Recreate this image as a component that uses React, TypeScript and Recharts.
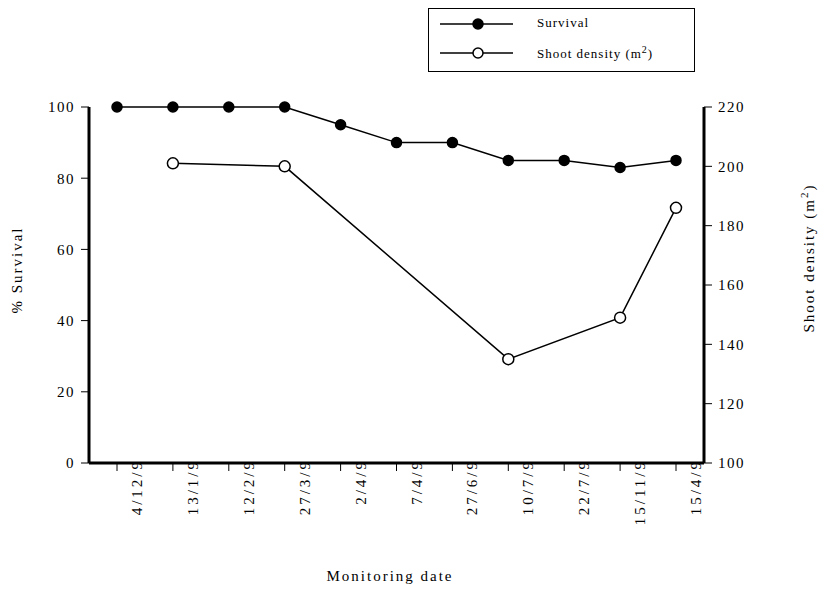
import { LineChart, Line, XAxis, YAxis } from 'recharts'

const dates = ['4/12/9', '13/1/9', '12/2/9', '27/3/9', '2/4/9', '7/4/9', '27/6/9', '10/7/9', '22/7/9', '15/11/9', '15/4/9']
const survival = [100, 100, 100, 100, 95, 90, 90, 85, 85, 83, 85]
const shootDensity: (number | null)[] = [null, 201, null, 200, null, null, null, 135, null, 149, 186]
const survivalTicks = [0, 20, 40, 60, 80, 100]
const densityTicks = [100, 120, 140, 160, 180, 200, 220]

const data = dates.map((d, i) => ({ date: d, survival: survival[i], density: shootDensity[i] }))

const FONT = '"Liberation Serif", "Times New Roman", serif'

function DateTick({ x, y, payload }: any) {
    // rotated label, reads bottom to top, top end touching the axis
    const tx = x + 25
    const ty = y - 14
    return (
        <text
            x={tx}
            y={ty}
            transform={`rotate(-90, ${tx}, ${ty})`}
            textAnchor="end"
            fill="#000"
            fontSize={15}
            fontFamily={FONT}
            letterSpacing={3}
        >
            {payload.value}
        </text>
    )
}

function LegendBox() {
    const row = (filled: boolean, label: React.ReactNode, top: number) => (
        <div style={{ position: 'absolute', left: 0, top, height: 16, width: '100%' }}>
            <svg width={80} height={16} style={{ position: 'absolute', left: 11, top: 0 }}>
                <line x1={0} y1={8} x2={73} y2={8} stroke="#000" strokeWidth={1.5} />
                <circle cx={38} cy={8} r={5} fill={filled ? '#000' : '#fff'} stroke="#000" strokeWidth={1.5} />
            </svg>
            <span style={{ position: 'absolute', left: 108, top: -1, fontSize: 13, letterSpacing: 1, whiteSpace: 'nowrap' }}>{label}</span>
        </div>
    )
    return (
        <div style={{ position: 'absolute', left: 428, top: 8, width: 265, height: 62, border: '1.5px solid #000', fontFamily: FONT, color: '#000', background: '#fff' }}>
            {row(true, 'Survival', 7)}
            {row(false, <>Shoot density (m<sup style={{ fontSize: 10 }}>2</sup>)</>, 36)}
        </div>
    )
}

export default function App() {
    const titleStyle: React.CSSProperties = {
        position: 'absolute',
        fontFamily: FONT,
        fontSize: 15,
        letterSpacing: 2,
        color: '#000',
        whiteSpace: 'nowrap',
        transform: 'translate(-50%, -50%)',
    }
    return (
        <div style={{ position: 'absolute', left: 0, top: 0, width: 819, height: 590, background: '#fff' }}>
            <LineChart width={819} height={590} data={data} margin={{ top: 107, right: 55, bottom: 47, left: 39 }}>
                <XAxis
                    dataKey="date"
                    height={80}
                    padding={{ left: 28, right: 28 }}
                    axisLine={{ stroke: '#000', strokeWidth: 3 }}
                    tickLine={{ stroke: '#000', strokeWidth: 1 }}
                    tickSize={8}
                    tickMargin={2}
                    interval={0}
                    tick={<DateTick />}
                />
                <YAxis
                    yAxisId="left"
                    width={50}
                    domain={[0, 100]}
                    ticks={survivalTicks}
                    axisLine={{ stroke: '#000', strokeWidth: 3 }}
                    tickLine={{ stroke: '#000', strokeWidth: 1 }}
                    tickSize={8}
                    tickMargin={6}
                    tick={{ fill: '#000', fontSize: 15, fontFamily: FONT, letterSpacing: 1.5 }}
                />
                <YAxis
                    yAxisId="right"
                    orientation="right"
                    width={60}
                    domain={[100, 220]}
                    ticks={densityTicks}
                    axisLine={{ stroke: '#000', strokeWidth: 3 }}
                    tickLine={{ stroke: '#000', strokeWidth: 1 }}
                    tickSize={8}
                    tickMargin={6}
                    tick={{ fill: '#000', fontSize: 15, fontFamily: FONT, letterSpacing: 1.5 }}
                />
                <Line
                    yAxisId="left"
                    dataKey="survival"
                    stroke="#000"
                    strokeWidth={1.5}
                    dot={{ r: 5, fill: '#000', stroke: '#000', strokeWidth: 1.5 }}
                    isAnimationActive={false}
                />
                <Line
                    yAxisId="right"
                    dataKey="density"
                    stroke="#000"
                    strokeWidth={1.5}
                    connectNulls
                    dot={{ r: 5.5, fill: '#fff', stroke: '#000', strokeWidth: 1.5 }}
                    isAnimationActive={false}
                />
            </LineChart>
            <LegendBox />
            <div style={{ ...titleStyle, left: 17, top: 270, transform: 'translate(-50%, -50%) rotate(-90deg)' }}>% Survival</div>
            <div style={{ ...titleStyle, left: 808, top: 258, transform: 'translate(-50%, -50%) rotate(-90deg)' }}>
                Shoot density (m<sup style={{ fontSize: 11 }}>2</sup>)
            </div>
            <div style={{ ...titleStyle, left: 390, top: 576 }}>Monitoring date</div>
        </div>
    )
}
